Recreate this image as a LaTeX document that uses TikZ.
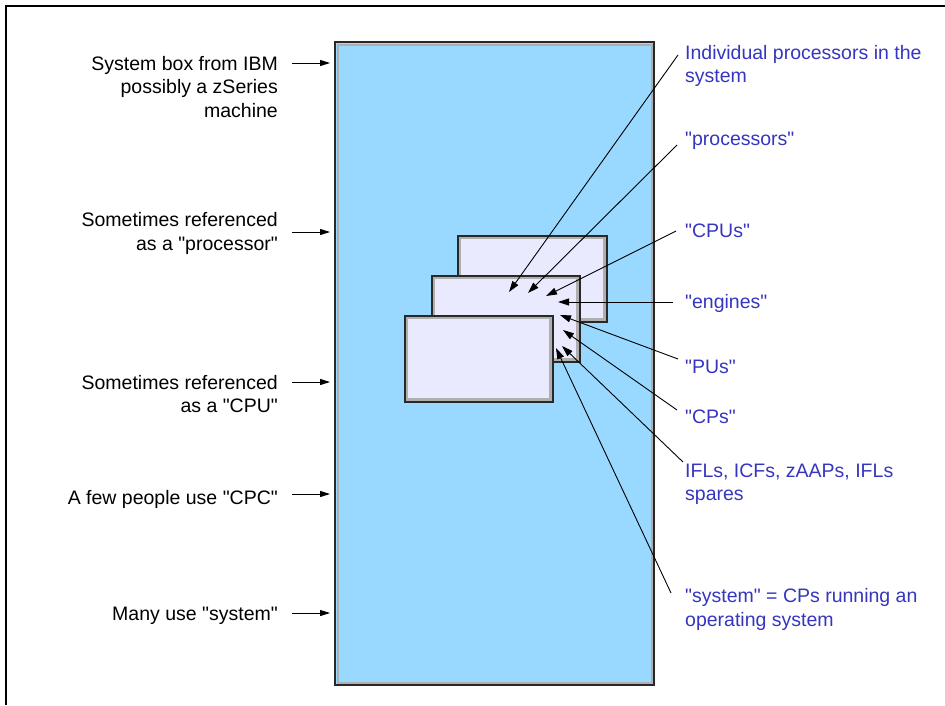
\documentclass[tikz,border=0pt]{standalone}
\usepackage{fontspec}
\setmainfont{Liberation Sans}[Ligatures=TeXOff]
\usetikzlibrary{arrows.meta}
\definecolor{boxblue}{RGB}{153,217,255}
\definecolor{cpufill}{RGB}{234,234,255}
\definecolor{lbltxt}{RGB}{53,53,192}
\definecolor{edgedark}{RGB}{40,40,40}
\definecolor{shadegrey}{RGB}{175,175,175}
\tikzset{
  txt/.style={inner sep=0pt, font=\fontsize{19.5}{23.3}\selectfont},
  lefttxt/.style={txt, anchor=base east, text=black},
  righttxt/.style={txt, anchor=base west, text=lbltxt},
  ptr/.style={line width=0.9pt, -{Triangle[length=11pt,width=7pt]}},
  lptr/.style={line width=1pt, -{Triangle[length=10pt,width=6pt]}},
  edgeline/.style={draw=edgedark, line width=1.8pt},
}
\begin{document}
\begin{tikzpicture}[x=1pt,y=-1pt]
\useasboundingbox (0,0) rectangle (945,705);
% frame
\draw[line width=1.4pt] (6,705) -- (6,6) -- (945,6);
% main system box
\fill[boxblue] (335,42) rectangle (654,685);
\draw[shadegrey, line width=2pt] (337.5,44.5) rectangle (651.5,682.5);
\draw[edgeline] (335,42) rectangle (654,685);
% processor boxes
\foreach \nm/\xa/\ya/\xb/\yb in {back/458/236/607/322, mid/432/276/580/362, front/405/316/553/402}{
  \fill[cpufill] (\xa,\ya) rectangle (\xb,\yb);
  \draw[shadegrey, line width=1.2pt] (\xa+2,\ya+2) rectangle (\xb-2,\yb-2);
  \draw[shadegrey, line width=2.2pt] (\xa+2,\yb-2.5) -- (\xb-2.5,\yb-2.5) -- (\xb-2.5,\ya+2);
  \draw[edgeline] (\xa,\ya) rectangle (\xb,\yb);
  \coordinate (\nm) at (\xa,\ya);
}
% left labels
\node[lefttxt] (L1) at (278,70.5) {\begin{tabular}[t]{@{}r@{}}System box from IBM\\possibly a zSeries\\machine\end{tabular}};
\node[lefttxt] (L2) at (278,226.7) {\begin{tabular}[t]{@{}r@{}}Sometimes referenced\\as a "processor"\end{tabular}};
\node[lefttxt] (L3) at (278,389) {\begin{tabular}[t]{@{}r@{}}Sometimes referenced\\as a "CPU"\end{tabular}};
\node[lefttxt] (L4) at (278,504) {A few people use "CPC"};
\node[lefttxt] (L5) at (278,620.7) {Many use "system"};
\foreach \i/\y in {1/63, 2/232, 3/382, 4/494, 5/613}{
  \coordinate (ls\i) at (292,\y);
  \coordinate (lt\i) at (330,\y);
  \draw[lptr] (ls\i) -- (lt\i);
}
% right labels
\node[righttxt] (R1) at (685,59.5) {\begin{tabular}[t]{@{}l@{}}Individual processors in the\\system\end{tabular}};
\node[righttxt] (R2) at (685,145) {"processors"};
\node[righttxt] (R3) at (685,237.3) {"CPUs"};
\node[righttxt] (R4) at (685,308) {"engines"};
\node[righttxt] (R5) at (685,373) {"PUs"};
\node[righttxt] (R6) at (685,423.3) {"CPs"};
\node[righttxt] (R7) at (685,477.3) {\begin{tabular}[t]{@{}l@{}}IFLs, ICFs, zAAPs, IFLs\\spares\end{tabular}};
\node[righttxt] (R8) at (685,602.7) {\begin{tabular}[t]{@{}l@{}}"system" = CPs running an\\operating system\end{tabular}};
% right connectors
\foreach \i/\sx/\sy/\tx/\ty in {1/678/55/509/292, 2/677/145/528/293, 3/676/231/546/296, 4/673/302/558/302, 5/678/359/560/315, 6/677/410/563/330, 7/683/462/562/346, 8/671/593/556/348}{
  \coordinate (rs\i) at (\sx,\sy);
  \coordinate (rt\i) at (\tx,\ty);
  \draw[ptr] (rs\i) -- (rt\i);
}
\end{tikzpicture}
\end{document}
